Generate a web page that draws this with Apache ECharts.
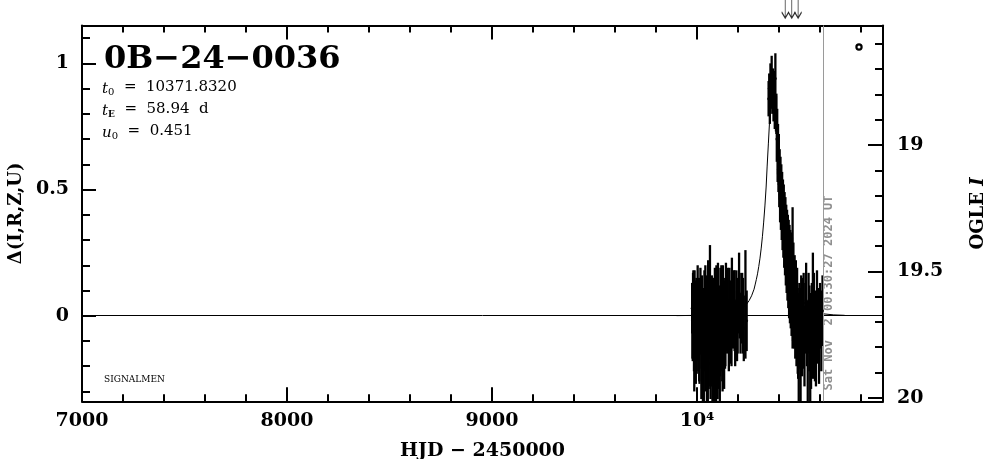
<!DOCTYPE html>
<html>
<head>
<meta charset="utf-8">
<script src="https://cdn.jsdelivr.net/npm/echarts@6/dist/echarts.min.js"></script>
<style>html,body{margin:0;padding:0;background:#fff;}#c{width:986px;height:459px;}</style>
</head>
<body>
<div id="c"></div>
<script>
// ---- axis ticks ----
const xMajor = [7000, 8000, 9000, 10000];
const xMinor = [7200,7400,7600,7800,8200,8400,8600,8800,9200,9400,9600,9800,10200,10400,10600,10800];
const yMajor = [0, 0.5, 1];
const yMinor = [-0.3,-0.2,-0.1,0.1,0.2,0.3,0.4,0.6,0.7,0.8,0.9,1.1];
const magMajor = [19, 19.5, 20];
const magMinor = [18.6,18.7,18.8,18.9,19.1,19.2,19.3,19.4,19.6,19.7,19.8,19.9];

// ---- observations: baseline season ----
const c1T = [9976,9979,9982,9985,9988,9991,9994,9997,10000,10003,10006,10009,10012,10015,10018,10021,10024,10027,10030,10033,10036,10039,10042,10045,10048,10051,10054,10057,10060,10063,10066,10069,10072,10075,10078,10081,10084,10087,10090,10093,10096,10099,10102,10105,10108,10111,10114,10117,10120,10123,10126,10129,10132,10135,10138,10141,10144,10150,10155,10160,10165,10170,10175,10180,10186,10192,10198,10205,10212,10220,10228,10236,10242];
const c1D = [0.03,-0.05,0.02,-0.08,0.06,-0.02,-0.10,0.04,-0.04,0.08,-0.06,0.00,-0.12,0.05,-0.03,-0.15,0.02,-0.09,-0.01,-0.18,0.07,-0.07,-0.13,0.03,-0.20,-0.04,0.10,-0.11,-0.02,0.12,-0.16,-0.06,0.04,-0.22,-0.09,0.01,-0.14,0.06,-0.05,-0.18,0.02,-0.08,0.09,-0.12,-0.01,-0.20,0.05,-0.07,0.00,-0.10,0.07,-0.03,-0.14,0.03,-0.06,0.08,-0.02,0.05,-0.09,0.02,-0.04,0.10,-0.01,0.04,-0.07,0.06,0.00,0.09,-0.03,0.03,-0.05,0.045,-0.02];
const c1E = [0.10,0.13,0.16,0.14,0.12,0.15,0.17,0.11,0.14,0.12,0.16,0.13,0.15,0.10,0.12,0.18,0.14,0.16,0.12,0.20,0.11,0.15,0.17,0.13,0.19,0.14,0.12,0.18,0.15,0.16,0.17,0.13,0.12,0.15,0.16,0.14,0.19,0.13,0.15,0.16,0.11,0.14,0.12,0.17,0.13,0.18,0.14,0.15,0.12,0.16,0.13,0.12,0.15,0.11,0.14,0.13,0.12,0.14,0.13,0.12,0.15,0.13,0.12,0.14,0.13,0.12,0.15,0.16,0.12,0.14,0.13,0.215,0.12];
const c1bT = [9977.5,9980.5,9986.5,9992.5,9998.5,10004.5,10010.5,10016.5,10022.5,10028.5,10034.5,10040.5,10046.5,10052.5,10058.5,10064.5,10070.5,10076.5,10082.5,10088.5,10094.5,10100.5,10106.5,10112.5,10118.5,10124.5,10130.5,10136.5,10147,10158,10168,10183,10195,10208,10224];
const c1bD = [-0.02,0.05,-0.12,0.00,-0.07,0.02,-0.09,0.04,-0.05,-0.17,-0.03,0.05,-0.10,-0.19,0.02,-0.08,-0.12,0.00,-0.21,-0.04,0.04,-0.15,-0.02,-0.09,0.06,-0.13,0.01,-0.05,0.00,0.06,-0.06,0.02,-0.04,0.04,0.00];
const c1bE = [0.15,0.12,0.18,0.14,0.16,0.13,0.17,0.15,0.16,0.19,0.13,0.15,0.18,0.17,0.14,0.20,0.16,0.15,0.17,0.14,0.16,0.18,0.13,0.15,0.14,0.17,0.14,0.16,0.15,0.13,0.14,0.16,0.14,0.13,0.15];

// ---- observations: event season ----
const pkT = [10349,10352,10355,10358,10361,10364,10367,10370,10373,10376,10379,10382,10385];
const pkD = [0.86,0.90,0.84,0.93,0.88,0.95,0.87,0.92,0.85,0.90,0.82,0.94,0.80];
const pkE = [0.07,0.06,0.08,0.07,0.06,0.08,0.07,0.06,0.08,0.07,0.08,0.10,0.07];
const dcT = [10387,10389,10391,10393,10395,10397,10399,10401,10403,10405,10407,10409,10411,10413,10415,10417,10419,10421,10423,10425,10427,10429,10431,10433,10435,10437,10439,10441,10443,10445,10447,10449,10451,10453,10455,10457,10459,10461,10463,10466,10468,10470,10473,10476,10479,10482,10485,10488,10491];
const dcD = [0.80,0.70,0.74,0.62,0.66,0.58,0.62,0.52,0.56,0.48,0.53,0.44,0.49,0.40,0.45,0.37,0.42,0.34,0.39,0.31,0.36,0.28,0.33,0.25,0.30,0.22,0.27,0.20,0.25,0.17,0.22,0.14,0.20,0.12,0.18,0.10,0.16,0.08,0.14,0.15,0.06,0.12,0.03,0.09,0.00,0.06,-0.02,0.04,-0.06];
const dcE = [0.08,0.09,0.08,0.09,0.10,0.09,0.10,0.09,0.10,0.11,0.10,0.10,0.11,0.10,0.12,0.11,0.12,0.11,0.13,0.12,0.13,0.12,0.14,0.13,0.14,0.13,0.15,0.14,0.15,0.14,0.16,0.15,0.16,0.15,0.16,0.15,0.17,0.16,0.17,0.28,0.16,0.17,0.16,0.15,0.17,0.16,0.18,0.15,0.17];
const lwT = [10493,10496,10499,10502,10505,10508,10512,10516,10520,10524,10528,10532,10536,10540,10544,10548,10552,10556,10560,10565,10570,10575,10580,10585,10590,10595,10600,10606,10612];
const lwD = [-0.08,-0.15,0.00,-0.05,-0.18,0.02,-0.09,-0.03,0.05,-0.12,-0.01,0.06,-0.07,-0.14,0.01,-0.05,-0.16,-0.10,-0.02,0.00,0.03,-0.08,-0.12,0.05,-0.04,-0.10,0.00,-0.06,0.02];
const lwE = [0.17,0.19,0.13,0.16,0.17,0.14,0.15,0.18,0.12,0.16,0.14,0.15,0.13,0.20,0.16,0.17,0.21,0.19,0.15,0.25,0.14,0.18,0.16,0.13,0.15,0.17,0.13,0.16,0.14];

// ---- model curve ----
const modelT = [9900,10018,10077,10136,10166,10195,10225,10239,10254,10266,10278,10283,10289,10295,10301,10307,10313,10319,10325,10331,10337,10342,10348,10354,10360,10366,10372,10378,10384,10390,10395,10401,10407,10413,10419,10425,10431,10437,10443,10448,10454,10460,10466,10478,10490,10504,10519,10549,10578,10608,10667,10720];
const modelD = [0.0005,0.0017,0.0034,0.0082,0.0105,0.0176,0.031,0.043,0.060,0.079,0.105,0.122,0.143,0.166,0.195,0.228,0.268,0.315,0.371,0.435,0.510,0.593,0.684,0.776,0.860,0.920,0.943,0.920,0.860,0.776,0.684,0.593,0.510,0.435,0.371,0.315,0.268,0.228,0.195,0.166,0.143,0.122,0.105,0.079,0.060,0.043,0.031,0.0176,0.0105,0.0082,0.0034,0.0017];

const arrowT = [10430, 10462, 10493];
const arrowY = [1.215, 1.215, 1.215];
const nowT = 10616.5;

const titleText = '0B\u221224\u22120036';
const dateText = 'Sat Nov  2 00:30:27 2024 UT';

// ---- chart ----
const obsT = [].concat(c1T, c1bT, pkT, dcT, lwT);
const obsD = [].concat(c1D, c1bD, pkD, dcD, lwD);
const obsE = [].concat(c1E, c1bE, pkE, dcE, lwE);

const X0 = 7000, X1 = 10907, Y0 = -0.339, Y1 = 1.150, M0 = 18.527, M1 = 20.014;
const LAB = {fontFamily:'DejaVu Serif', fontWeight:'bold', fontSize:19, color:'#000'};
const black = '#000';

function xAx(pos, ticks, len, showLine, showLab) {
  return {
    type:'value', position:pos, min:X0, max:X1, gridIndex:0,
    axisLine:{show:showLine, onZero:false, lineStyle:{color:black, width:2}},
    axisTick:{show:true, inside:true, length:len, customValues:ticks, lineStyle:{color:black, width:2}},
    axisLabel:showLab ? Object.assign({show:true, margin:10, customValues:ticks,
      formatter:v => v === 10000 ? '10\u2074' : String(v)}, LAB) : {show:false},
    splitLine:{show:false}
  };
}
function yAx(pos, mn, mx, inv, ticks, len, showLine, showLab, fmt) {
  return {
    type:'value', position:pos, min:mn, max:mx, inverse:inv,
    axisLine:{show:showLine, onZero:false, lineStyle:{color:black, width:2}},
    axisTick:{show:true, inside:true, length:len, customValues:ticks, lineStyle:{color:black, width:2}},
    axisLabel:showLab ? Object.assign({show:true, margin:14, customValues:ticks, formatter:fmt}, LAB) : {show:false},
    splitLine:{show:false}
  };
}

const xAxes = [
  xAx('bottom', xMajor, 14, true, true),
  xAx('bottom', xMinor, 7, false, false),
  xAx('top', xMajor, 14, true, false),
  xAx('top', xMinor, 7, false, false)
];
xAxes[0].name = 'HJD \u2212 2450000';
xAxes[0].nameLocation = 'middle';
xAxes[0].nameGap = 40;
xAxes[0].nameTextStyle = {fontFamily:'DejaVu Serif', fontWeight:'bold', fontSize:19, color:black};

const yAxes = [
  yAx('left', Y0, Y1, false, yMajor, 14, true, true, v => String(v)),
  yAx('left', Y0, Y1, false, yMinor, 8, false, false),
  yAx('right', M0, M1, true, magMajor, 15, true, true, v => String(v)),
  yAx('right', M0, M1, true, magMinor, 8, false, false)
];
yAxes[0].axisLabel.margin = 13;
yAxes[0].name = '\u0394(I,R,Z,U)';
yAxes[0].nameLocation = 'middle';
yAxes[0].nameRotate = 90;
yAxes[0].nameGap = 56;
yAxes[0].nameTextStyle = {fontFamily:'DejaVu Serif', fontWeight:'bold', fontSize:18, color:black};
yAxes[2].name = 'OGLE {i|I}';
yAxes[2].nameLocation = 'middle';
yAxes[2].nameRotate = 90;
yAxes[2].nameGap = 86;
yAxes[2].nameTextStyle = {fontFamily:'DejaVu Serif', fontWeight:'bold', fontSize:18, color:black,
  rich:{i:{fontFamily:'DejaVu Serif', fontStyle:'italic', fontWeight:'bold', fontSize:18, color:black}}};

function renderErr(params, api) {
  const t = api.value(0), d = api.value(1), e = api.value(2);
  const p1 = api.coord([t, d + e]);
  const p2 = api.coord([t, d - e]);
  const cs = params.coordSys;
  const top = cs.y, bot = cs.y + cs.height;
  const ya = Math.max(top, Math.min(bot, p1[1]));
  const yb = Math.max(top, Math.min(bot, p2[1]));
  return {type:'line', shape:{x1:p1[0], y1:ya, x2:p2[0], y2:yb}, style:{stroke:black, lineWidth:2.3}};
}

const ptsData = obsT.map((t, i) => [t, obsD[i], obsE[i]]);

const subStyle = {fontFamily:'DejaVu Serif', fontSize:10, lineHeight:10, verticalAlign:'bottom'};
const itStyle = {fontFamily:'DejaVu Serif', fontStyle:'italic', fontSize:15, lineHeight:19, verticalAlign:'bottom'};

const option = {
  animation:false,
  backgroundColor:'#fff',
  grid:{left:82, right:103, top:25.5, bottom:57.7, containLabel:false, outerBoundsMode:'none'},
  xAxis:xAxes,
  yAxis:yAxes,
  series:[
    {
      type:'line', xAxisIndex:0, yAxisIndex:0, showSymbol:false, symbol:'none',
      data:modelT.map((t, i) => [t, modelD[i]]),
      lineStyle:{color:black, width:1}, z:3,
      markLine:{silent:true, symbol:'none', animation:false,
        label:{show:false},
        data:[
          {yAxis:0, lineStyle:{color:black, width:1, type:'solid'}},
          {xAxis:nowT, lineStyle:{color:'#9a9a9a', width:1, type:'solid'}}
        ]}
    },
    {
      type:'custom', xAxisIndex:0, yAxisIndex:0, renderItem:renderErr,
      data:ptsData, encode:{x:0, y:1}, z:4
    },
    {
      type:'scatter', xAxisIndex:0, yAxisIndex:0, symbol:'circle', symbolSize:3,
      data:ptsData.map(p => [p[0], p[1]]), itemStyle:{color:black}, z:5
    },
    {
      type:'scatter', xAxisIndex:0, yAxisIndex:0, clip:false, silent:true,
      symbol:'path://M4,0 L4,18 M0,12 L4,18 L8,12', symbolSize:[7, 18],
      data:arrowT.map((t, i) => [t, arrowY[i]]),
      itemStyle:{color:'rgba(0,0,0,0)', borderColor:black, borderWidth:1.2}, z:5
    }
  ],
  graphic:[
    {type:'text', left:104, top:44, silent:true,
      style:{text:titleText, font:'bold 32px "DejaVu Serif"', fill:black}},
    {type:'text', left:102, top:78, silent:true,
      style:{text:'{it|t}{sub|0}  =  10371.8320', fill:black, rich:{it:itStyle, sub:subStyle},
        fontFamily:'DejaVu Serif', fontSize:15, lineHeight:19}},
    {type:'text', left:102, top:100, silent:true,
      style:{text:'{it|t}{sub|E}  =  58.94  d', fill:black, rich:{it:itStyle, sub:Object.assign({}, subStyle, {fontWeight:'bold', fontSize:9})},
        fontFamily:'DejaVu Serif', fontSize:15, lineHeight:19}},
    {type:'text', left:102, top:122, silent:true,
      style:{text:'{it|u}{sub|0}  =  0.451', fill:black, rich:{it:itStyle, sub:subStyle},
        fontFamily:'DejaVu Serif', fontSize:15, lineHeight:19}},
    {type:'text', left:104, top:375, silent:true,
      style:{text:'SIGNALMEN', font:'9px "DejaVu Serif"', fill:black}},
    {type:'text', x:829, y:293, rotation:Math.PI/2, silent:true,
      style:{text:dateText, font:'bold 12px "DejaVu Sans Mono"', fill:'#8f8f8f', align:'center', verticalAlign:'middle'}},
    {type:'circle', shape:{cx:859, cy:47, r:2.6}, silent:true,
      style:{fill:'none', stroke:black, lineWidth:2.2}}
  ]
};

const chart = echarts.init(document.getElementById('c'), null, {renderer:'canvas'});
chart.setOption(option);
</script>
</body>
</html>
